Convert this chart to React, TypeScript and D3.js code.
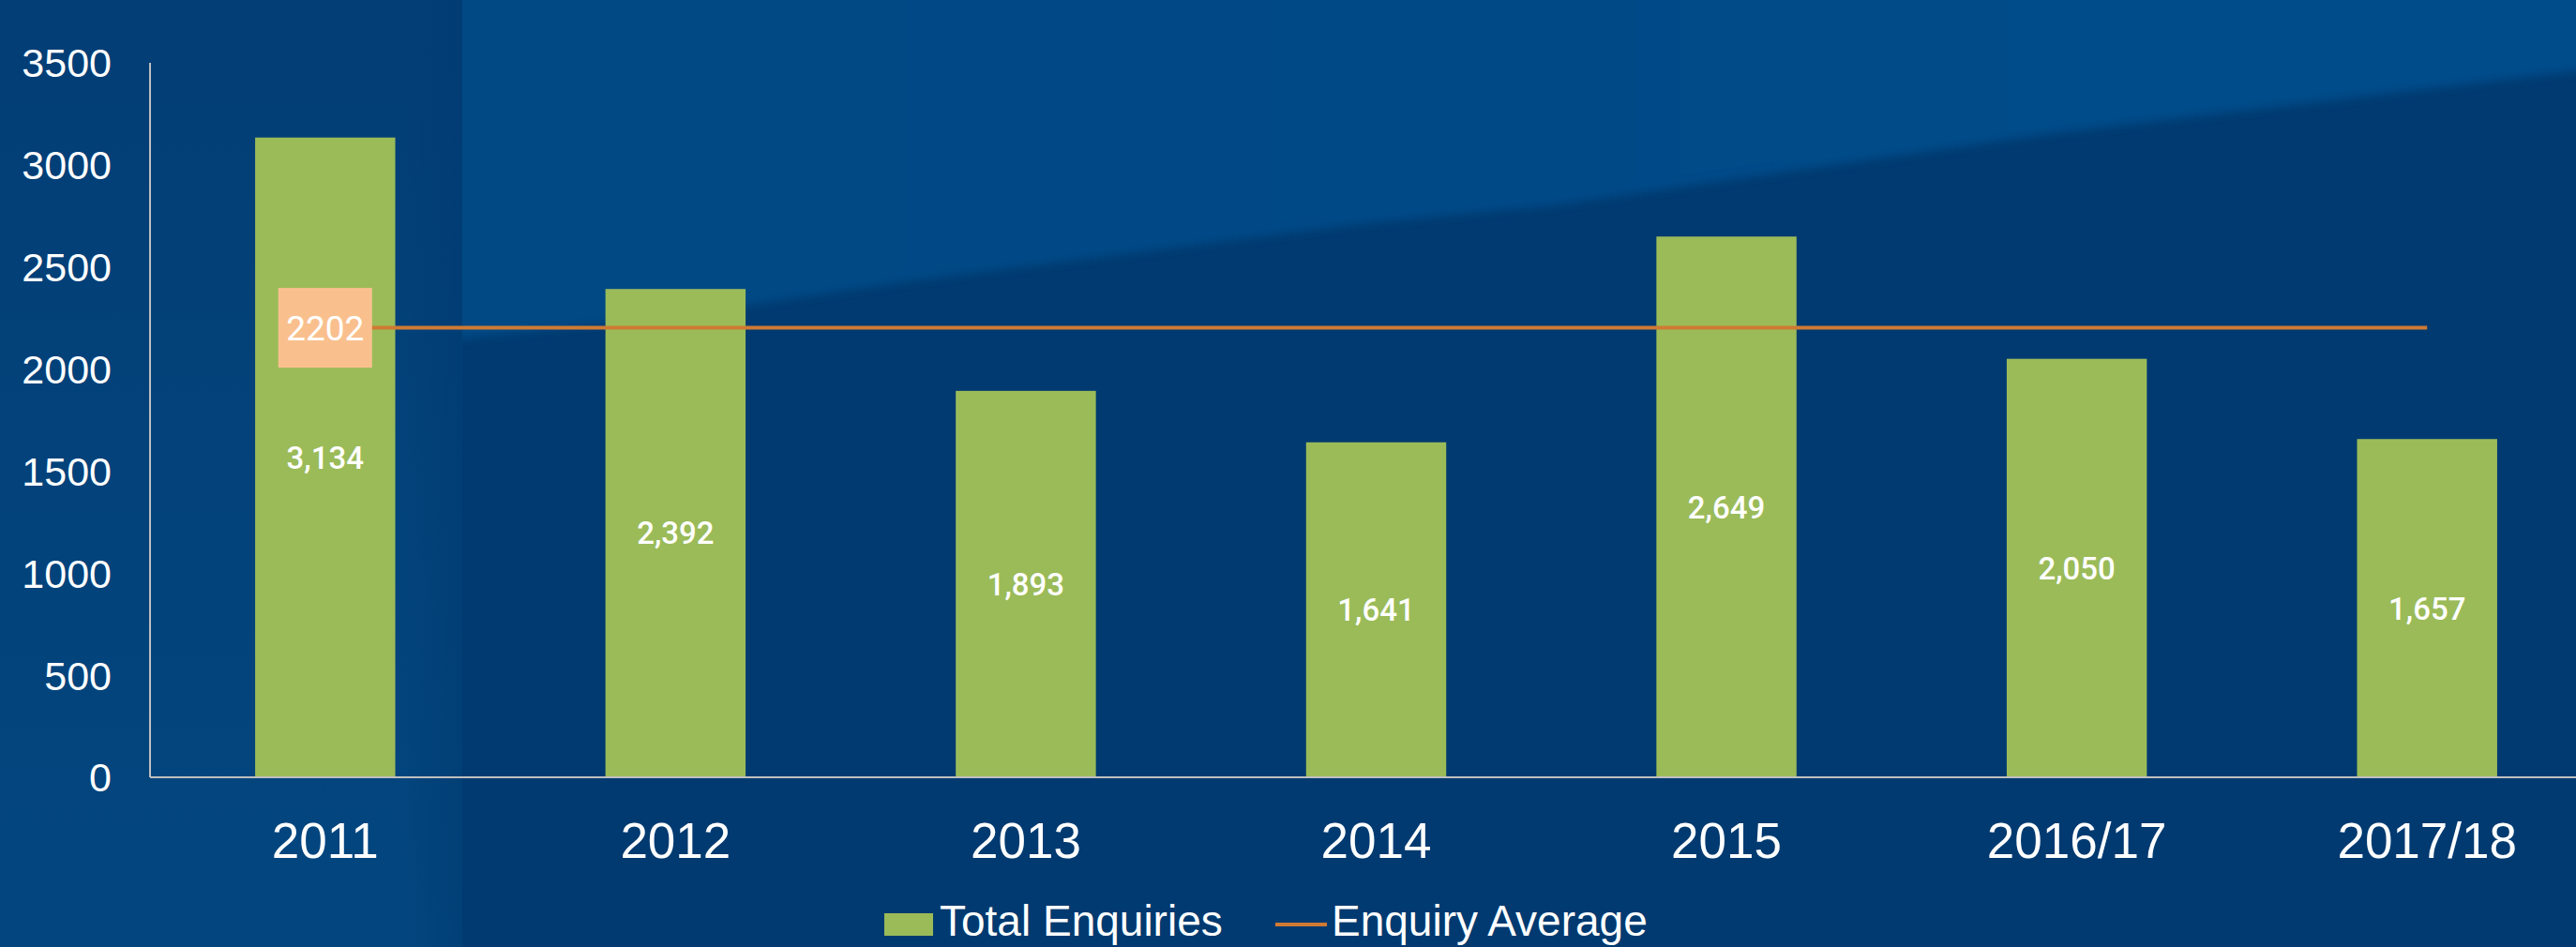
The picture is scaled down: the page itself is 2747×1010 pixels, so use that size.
import React from "react";
import * as d3 from "d3";

const categories = ["2011", "2012", "2013", "2014", "2015", "2016/17", "2017/18"];
const totalEnquiries = [3134, 2392, 1893, 1641, 2649, 2050, 1657];
const enquiryAverage = 2202;
const yTicks = [0, 500, 1000, 1500, 2000, 2500, 3000, 3500];
const legendLabels = ["Total Enquiries", "Enquiry Average"];

const W = 2747;
const H = 1010;

export default function App() {
  const x = d3
    .scaleBand<string>()
    .domain(categories)
    .range([160, 2775])
    .paddingInner(0.6)
    .paddingOuter(0.3);
  const y = d3.scaleLinear().domain([0, 3500]).range([829, 67]);
  const bw = x.bandwidth();
  const fmt = d3.format(",");
  const avgY = y(enquiryAverage);
  const firstC = (x(categories[0]) as number) + bw / 2;
  const lastC = (x(categories[categories.length - 1]) as number) + bw / 2;
  const lineGen = d3.line<number>().x((d) => d).y(() => avgY);

  const sans = "'Liberation Sans', Arial, Helvetica, sans-serif";
  const roboto = "Roboto, 'Noto Sans', sans-serif";

  const boundary: [number, number][] = [
    [470, -60],
    [2820, -60],
    [2820, 68],
    [2747, 76],
    [2185, 143],
    [1650, 220],
    [1467, 237],
    [970, 300],
    [794, 326],
    [600, 350],
    [470, 364],
  ];

  return (
    <svg
      width={W}
      height={H}
      style={{ position: "absolute", left: 0, top: 0, display: "block" }}
    >
      <defs>
        <linearGradient id="leftStrip" x1="0" y1="0" x2="0" y2="1">
          <stop offset="0" stopColor="#033e76" />
          <stop offset="1" stopColor="#03467f" />
        </linearGradient>
        <linearGradient id="stripEdge" x1="0" y1="0" x2="1" y2="0">
          <stop offset="0" stopColor="#003b72" stopOpacity="0" />
          <stop offset="1" stopColor="#003b72" stopOpacity="0.6" />
        </linearGradient>
        <linearGradient id="upper" x1="0" y1="0" x2="1" y2="0">
          <stop offset="0" stopColor="#024884" />
          <stop offset="1" stopColor="#004c8a" />
        </linearGradient>
        <filter id="soft" x="-5%" y="-20%" width="110%" height="140%">
          <feGaussianBlur stdDeviation="5" />
        </filter>
        <clipPath id="rightClip">
          <rect x={493} y={0} width={W - 493} height={H} />
        </clipPath>
      </defs>

      {/* background */}
      <rect x={0} y={0} width={W} height={H} fill="#003a70" />
      <g clipPath="url(#rightClip)">
        <polygon
          points={boundary.map((p) => p.join(",")).join(" ")}
          fill="url(#upper)"
          filter="url(#soft)"
        />
      </g>
      <rect x={0} y={0} width={493} height={H} fill="url(#leftStrip)" />
      <rect x={430} y={0} width={63} height={H} fill="url(#stripEdge)" />

      {/* bars */}
      {categories.map((c, i) => (
        <rect
          key={c}
          x={x(c)}
          y={y(totalEnquiries[i])}
          width={bw}
          height={y(0) - y(totalEnquiries[i])}
          fill="#9bbb59"
        />
      ))}

      {/* axes */}
      <line x1={160} x2={160} y1={y(3500)} y2={y(0)} stroke="#bfbfbf" strokeWidth={2} />
      <line x1={160} x2={W} y1={y(0)} y2={y(0)} stroke="#bfbfbf" strokeWidth={2} />

      {yTicks.map((t) => (
        <text
          key={t}
          x={119}
          y={y(t)}
          dy="0.36em"
          textAnchor="end"
          fill="#ffffff"
          fontSize={43}
          fontFamily={sans}
        >
          {t}
        </text>
      ))}

      {categories.map((c) => (
        <text
          key={c}
          x={(x(c) as number) + bw / 2}
          y={915}
          textAnchor="middle"
          fill="#ffffff"
          fontSize={53}
          fontFamily={sans}
        >
          {c}
        </text>
      ))}

      {/* average line */}
      <path
        d={lineGen([firstC, lastC]) as string}
        stroke="#cf7a34"
        strokeWidth={4}
        fill="none"
      />
      <rect
        x={firstC - 50}
        y={avgY - 42.5}
        width={100}
        height={85}
        fill="#f9c08e"
      />
      <text
        x={firstC}
        y={avgY}
        dy="0.36em"
        textAnchor="middle"
        fill="#ffffff"
        fontSize={37}
        fontFamily={roboto}
      >
        {enquiryAverage}
      </text>

      {/* data labels */}
      {categories.map((c, i) => (
        <text
          key={c}
          x={(x(c) as number) + bw / 2}
          y={(y(totalEnquiries[i]) + y(0)) / 2}
          dy="0.36em"
          textAnchor="middle"
          fill="#ffffff"
          fontSize={33}
          fontWeight={500}
          fontFamily={roboto}
        >
          {fmt(totalEnquiries[i])}
        </text>
      ))}

      {/* legend */}
      <rect x={943} y={974} width={52} height={24} fill="#9bbb59" />
      <text x={1002} y={998} fill="#ffffff" fontSize={46} fontFamily={sans}>
        {legendLabels[0]}
      </text>
      <line x1={1360} x2={1415} y1={986} y2={986} stroke="#cf7a34" strokeWidth={4} />
      <text x={1420} y={998} fill="#ffffff" fontSize={46} fontFamily={sans}>
        {legendLabels[1]}
      </text>
    </svg>
  );
}
